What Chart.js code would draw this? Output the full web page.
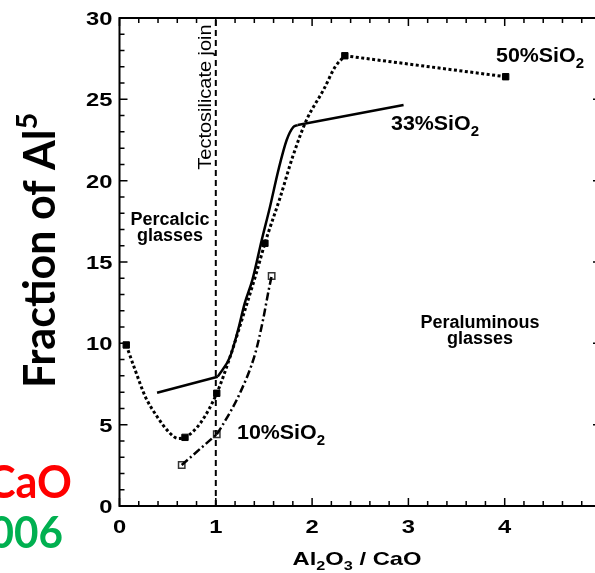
<!DOCTYPE html>
<html>
<head>
    <title>Fraction of Al5</title>
    <script src="https://cdn.jsdelivr.net/npm/chart.js"></script>
    <style>
        html, body { margin: 0; padding: 0; overflow: hidden; background: #fff; }
    </style>
</head>
<body>
    <div style="width:610px; height:573px;">
        <canvas id="myChart" width="610" height="573"></canvas>
    </div>

    <script>
        // tick values
        var xTicks = [0, 1, 2, 3, 4, 5];
        var yTicks = [0, 5, 10, 15, 20, 25, 30];

        // 50% SiO2 (dotted, filled squares)
        var sio50Marks = [[0.07, 9.9], [0.68, 4.22], [1.01, 6.93], [1.51, 16.15], [2.34, 27.68], [4.01, 26.39]];
        var sio50Curve = [[0.07, 9.9], [0.16, 8.4], [0.27, 6.7], [0.39, 5.5], [0.52, 4.5], [0.61, 4.15], [0.68, 4.22],
                          [0.84, 5.1], [1.01, 6.93], [1.15, 9.2], [1.3, 12.0], [1.42, 14.3], [1.51, 16.15],
                          [1.67, 19.0], [1.8, 21.5], [1.94, 23.7], [2.12, 25.6], [2.24, 27.0], [2.34, 27.68]];
        var sio50Tail = [[2.34, 27.68], [4.01, 26.39]];

        // 33% SiO2 (solid)
        var sio33Start = [[0.39, 6.96], [1.02, 7.95]];
        var sio33Curve = [[1.02, 7.95], [1.15, 9.2], [1.23, 10.8], [1.3, 12.46], [1.38, 13.9], [1.477, 16.35],
                          [1.563, 18.4], [1.65, 20.65], [1.736, 22.5], [1.805, 23.3], [1.85, 23.42]];
        var sio33Tail = [[1.85, 23.42], [2.95, 24.65]];

        // 10% SiO2 (dash-dot, open squares)
        var sio10Marks = [[0.646, 2.52], [1.01, 4.41], [1.58, 14.14]];
        var sio10Start = [[0.646, 2.52], [1.01, 4.41]];
        var sio10Curve = [[1.01, 4.41], [1.06, 4.87], [1.25, 6.93], [1.41, 9.39], [1.49, 11.43], [1.55, 13.3], [1.58, 14.14]];

        // tectosilicate join
        var joinLine = [[1, 0], [1, 30]];

        function pts(arr) {
            return arr.map(function (p) { return {x: p[0], y: p[1]}; });
        }

        function lineSet(arr, dash, width, mono) {
            return {
                data: pts(arr),
                showLine: true,
                borderColor: '#000',
                borderWidth: width,
                borderDash: dash,
                pointRadius: 0,
                fill: false,
                cubicInterpolationMode: mono ? 'monotone' : 'default',
                tension: 0
            };
        }

        var FONT = '"Liberation Sans", Arial, sans-serif';

        // draws text with sub/superscripts; parts: [text, kind] kind 0 normal, 1 sub, 2 sup
        // sx stretches the text horizontally (the figure's lettering is wide)
        function richText(ctx, parts, x, y, size, weight, align, family, sx) {
            var fam = family || FONT;
            var k = sx || 1;
            var small = Math.round(size * 0.68);
            var w = 0;
            parts.forEach(function (p) {
                ctx.font = weight + ' ' + (p[1] ? small : size) + 'px ' + fam;
                w += ctx.measureText(p[0]).width;
            });
            var cx = 0;
            if (align === 'center') cx = -w / 2;
            if (align === 'right') cx = -w;
            ctx.save();
            ctx.translate(x, y);
            ctx.scale(k, 1);
            ctx.textAlign = 'left';
            ctx.textBaseline = 'alphabetic';
            parts.forEach(function (p) {
                ctx.font = weight + ' ' + (p[1] ? small : size) + 'px ' + fam;
                var dy = p[1] === 1 ? size * 0.28 : (p[1] === 2 ? -size * 0.42 : 0);
                ctx.fillText(p[0], cx, dy);
                cx += ctx.measureText(p[0]).width;
            });
            ctx.restore();
        }

        var decor = {
            id: 'decor',
            afterDatasetsDraw: function (chart) {
                var ctx = chart.ctx;
                var a = chart.chartArea;
                var xs = chart.scales.x, ys = chart.scales.y;
                ctx.save();
                ctx.fillStyle = '#000';
                ctx.strokeStyle = '#000';

                // frame
                ctx.lineWidth = 2;
                ctx.strokeRect(a.left, a.top, a.right - a.left, a.bottom - a.top);

                // inward ticks
                ctx.lineWidth = 1.5;
                ctx.beginPath();
                for (var i = 0; i <= 25; i++) {
                    var px = xs.getPixelForValue(i * 0.2);
                    var len = (i % 5 === 0) ? 8 : 5;
                    ctx.moveTo(px, a.bottom); ctx.lineTo(px, a.bottom - len);
                    ctx.moveTo(px, a.top); ctx.lineTo(px, a.top + len);
                }
                for (var j = 0; j <= 30; j++) {
                    var py = ys.getPixelForValue(j);
                    var l2 = (j % 5 === 0) ? 8 : 5;
                    ctx.moveTo(a.left, py); ctx.lineTo(a.left + l2, py);
                    ctx.moveTo(a.right, py); ctx.lineTo(a.right - l2, py);
                }
                ctx.stroke();

                // tick labels
                xTicks.forEach(function (v) {
                    richText(ctx, [[String(v), 0]], xs.getPixelForValue(v), a.bottom + 27, 19, 'bold', 'center', FONT, 1.25);
                });
                yTicks.forEach(function (v) {
                    richText(ctx, [[String(v), 0]], a.left - 7, ys.getPixelForValue(v) + 7, 19, 'bold', 'right', FONT, 1.25);
                });

                // labels inside the plot
                richText(ctx, [['50%SiO', 0], ['2', 1]], 496, 62, 20, 'bold', 'left', FONT, 1.07);
                richText(ctx, [['33%SiO', 0], ['2', 1]], 391, 130, 20, 'bold', 'left', FONT, 1.07);
                richText(ctx, [['10%SiO', 0], ['2', 1]], 237, 439, 20, 'bold', 'left', FONT, 1.07);
                richText(ctx, [['Percalcic', 0]], 170, 225, 18, 'bold', 'center');
                richText(ctx, [['glasses', 0]], 170, 241, 18, 'bold', 'center');
                richText(ctx, [['Peraluminous', 0]], 480, 328, 18, 'bold', 'center');
                richText(ctx, [['glasses', 0]], 480, 344, 18, 'bold', 'center');

                ctx.save();
                ctx.translate(211, 97);
                ctx.rotate(-Math.PI / 2);
                richText(ctx, [['Tectosilicate join', 0]], 0, 0, 19, 'normal', 'center', FONT, 1.05);
                ctx.restore();

                // x axis title
                richText(ctx, [['Al', 0], ['2', 1], ['O', 0], ['3', 1], [' / CaO', 0]], 357, 565, 19, 'bold', 'center', FONT, 1.25);

                // y axis title
                ctx.save();
                ctx.translate(55, 388);
                ctx.rotate(-Math.PI / 2);
                richText(ctx, [['Fraction of Al', 0], ['5', 2]], 0, 0, 43, 'bold', 'left', 'Lato, sans-serif');
                ctx.restore();

                // cropped slide text on the left
                ctx.fillStyle = '#ff0000';
                richText(ctx, [['CaO', 0]], 72, 498, 45, 'bold', 'right', 'Lato, sans-serif', 0.96);
                ctx.fillStyle = '#00b050';
                richText(ctx, [['2006', 0]], 63, 548, 44, 'bold', 'right', 'Lato, sans-serif', 0.96);

                ctx.restore();
            }
        };

        var chart = new Chart(document.getElementById('myChart'), {
            type: 'scatter',
            data: {
                datasets: [
                    lineSet(joinLine, [6, 4], 2, false),
                    lineSet(sio50Curve, [3, 2.5], 3, true),
                    lineSet(sio50Tail, [3, 2.5], 3, false),
                    lineSet(sio33Start, [], 2.5, false),
                    lineSet(sio33Curve, [], 2.5, true),
                    lineSet(sio33Tail, [], 2.5, false),
                    lineSet(sio10Start, [8, 3, 2, 3], 2.5, false),
                    lineSet(sio10Curve, [8, 3, 2, 3], 2.5, true),
                    {
                        data: pts(sio50Marks),
                        showLine: false,
                        pointStyle: 'rect',
                        pointRadius: 4.5,
                        backgroundColor: '#000',
                        borderColor: '#000',
                        borderWidth: 1
                    },
                    {
                        data: pts(sio10Marks),
                        showLine: false,
                        pointStyle: 'rect',
                        pointRadius: 4.5,
                        backgroundColor: '#fff',
                        borderColor: '#333',
                        borderWidth: 1.5
                    }
                ]
            },
            options: {
                responsive: false,
                animation: false,
                layout: {
                    padding: {top: 18, right: 9, left: 0, bottom: 0}
                },
                plugins: {
                    legend: {display: false},
                    tooltip: {enabled: false}
                },
                scales: {
                    x: {
                        type: 'linear',
                        min: 0,
                        max: 5,
                        afterFit: function (s) { s.height = 67; },
                        grid: {display: false, drawTicks: false},
                        border: {display: false},
                        ticks: {display: false}
                    },
                    y: {
                        type: 'linear',
                        min: 0,
                        max: 30,
                        afterFit: function (s) { s.width = 119.5; },
                        grid: {display: false, drawTicks: false},
                        border: {display: false},
                        ticks: {display: false}
                    }
                }
            },
            plugins: [decor]
        });
    </script>
</body>
</html>
